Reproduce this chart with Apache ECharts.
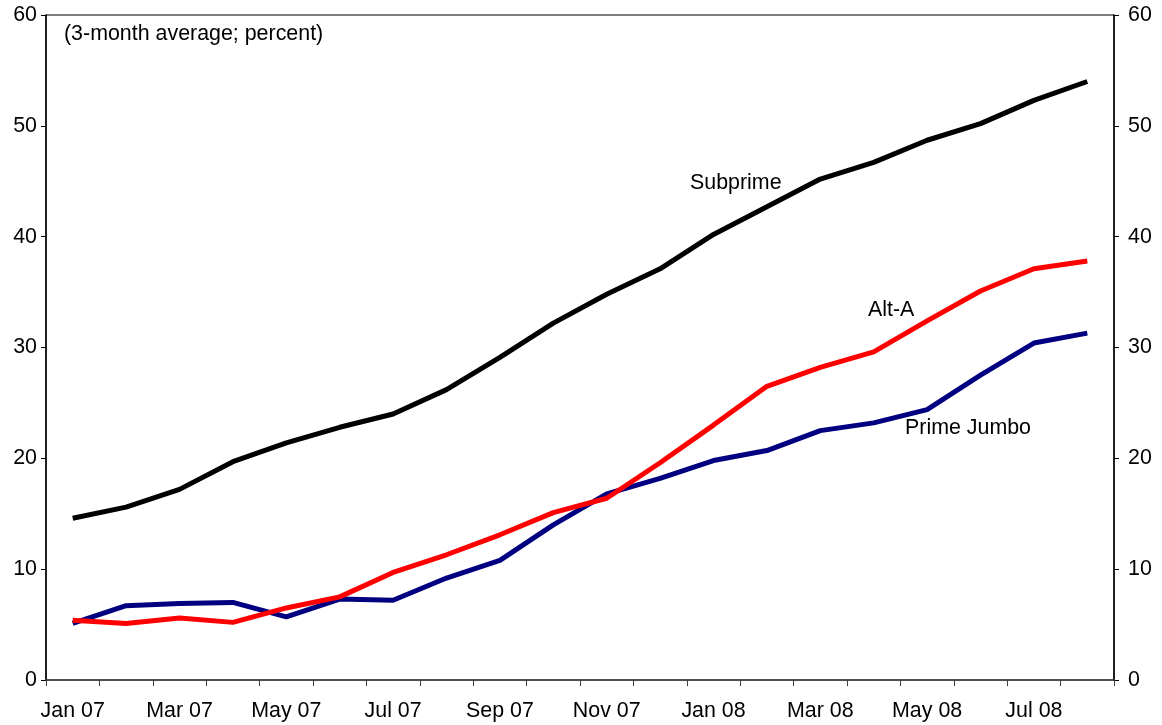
<!DOCTYPE html>
<html>
<head>
<meta charset="utf-8">
<script src="https://cdn.jsdelivr.net/npm/echarts@6/dist/echarts.min.js"></script>
<style>
html,body{margin:0;padding:0;background:#fff;}
#chart{width:1162px;height:725px;}
</style>
</head>
<body>
<div id="chart"></div>
<script>
const months = ['Jan 07','Feb 07','Mar 07','Apr 07','May 07','Jun 07','Jul 07','Aug 07','Sep 07','Oct 07','Nov 07','Dec 07',
                'Jan 08','Feb 08','Mar 08','Apr 08','May 08','Jun 08','Jul 08','Aug 08'];
const subprime = [14.6,15.6,17.2,19.7,21.4,22.8,24.0,26.2,29.1,32.2,34.8,37.1,40.2,42.7,45.2,46.7,48.7,50.2,52.3,54.0];
const altA     = [5.4,5.1,5.6,5.2,6.5,7.5,9.7,11.3,13.1,15.1,16.4,19.6,23.0,26.5,28.2,29.6,32.4,35.1,37.1,37.8];
const primeJumbo = [5.1,6.7,6.9,7.0,5.7,7.3,7.2,9.2,10.8,14.0,16.8,18.2,19.8,20.7,22.5,23.2,24.4,27.5,30.4,31.3];
const yTicks = [0,10,20,30,40,50,60];

const chart = echarts.init(document.getElementById('chart'), null, {renderer:'canvas'});
const font = 'Liberation Sans, Arial, sans-serif';
const fs = 21.4;
const yAxisBase = {
  type:'value', min:0, max:60, interval:10,
  axisLine:{show:true, lineStyle:{color:'#000', width:1.5}},
  axisTick:{show:true, length:5, lineStyle:{color:'#000'}},
  splitLine:{show:false},
  axisLabel:{color:'#000', fontSize:fs, fontFamily:font}
};
chart.setOption({
  animation:false,
  backgroundColor:'#fff',
  grid:{left:46, right:48, top:15, bottom:45, show:true, borderColor:'#000', borderWidth:1},
  xAxis:{
    type:'category', data:months, boundaryGap:true,
    axisLine:{lineStyle:{color:'#404040', width:1.5}},
    axisTick:{show:true, interval:0, length:6, lineStyle:{color:'#404040'}},
    axisLabel:{interval:1, color:'#000', fontSize:fs, fontFamily:font, margin:21}
  },
  yAxis:[
    Object.assign({}, yAxisBase, {position:'left', axisLabel:Object.assign({}, yAxisBase.axisLabel, {margin:9})}),
    Object.assign({}, yAxisBase, {position:'right', axisLabel:Object.assign({}, yAxisBase.axisLabel, {margin:14})})
  ],
  series:[
    {name:'Subprime', type:'line', data:subprime, symbol:'none', lineStyle:{color:'#000', width:5}, itemStyle:{color:'#000'}},
    {name:'Alt-A', type:'line', data:altA, symbol:'none', lineStyle:{color:'#ff0000', width:5}, itemStyle:{color:'#ff0000'}},
    {name:'Prime Jumbo', type:'line', data:primeJumbo, symbol:'none', lineStyle:{color:'#000080', width:5}, itemStyle:{color:'#000080'}, z:1}
  ],
  graphic:[
    {type:'text', left:64, top:24, style:{text:'(3-month average; percent)', font:fs+'px '+font, fill:'#000'}},
    {type:'text', left:690, top:173, style:{text:'Subprime', font:fs+'px '+font, fill:'#000'}},
    {type:'text', left:868, top:300, style:{text:'Alt-A', font:fs+'px '+font, fill:'#000'}},
    {type:'text', left:905, top:418, style:{text:'Prime Jumbo', font:fs+'px '+font, fill:'#000'}}
  ]
});
</script>
</body>
</html>
